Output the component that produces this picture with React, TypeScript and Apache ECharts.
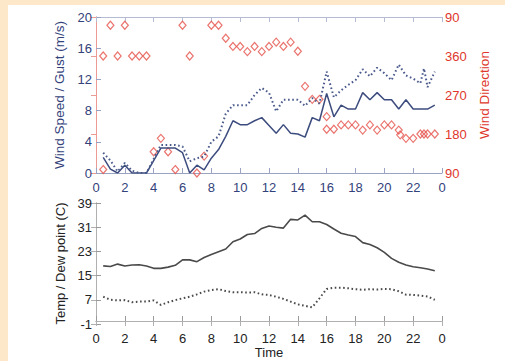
import React, { useEffect, useRef } from "react";
import * as echarts from "echarts";

const windHours = [0.5, 1, 1.5, 2, 2.5, 3, 3.5, 4, 4.5, 5, 5.5, 6, 6.5, 7, 7.5, 8, 8.5, 9, 9.5, 10, 10.5, 11, 11.5, 12, 12.5, 13, 13.5, 14, 14.5, 15, 15.5, 16, 16.5, 17, 17.5, 18, 18.5, 19, 19.5, 20, 20.5, 21, 21.5, 22, 22.5, 22.75, 23, 23.5];
const windSpeed = [2.0, 0.5, 0, 1.0, 0, 0, 0, 1.6, 3.2, 3.2, 3.2, 2.6, 0, 1.0, 0.4, 1.9, 3.0, 4.7, 6.7, 6.2, 6.2, 6.7, 7.1, 6.1, 5.1, 6.2, 5.1, 5.0, 4.6, 7.1, 6.7, 10.2, 7.2, 8.7, 8.2, 8.2, 10.3, 9.4, 10.3, 9.4, 9.4, 8.2, 9.4, 8.2, 8.2, 8.2, 8.2, 8.7];
const windGust = [2.6, 1.6, 0.2, 1.3, 0.3, 0, 0, 1.8, 3.6, 3.6, 3.6, 3.4, 1.5, 1.9, 2.1, 4.0, 4.7, 7.6, 8.7, 8.7, 8.7, 10.0, 10.9, 10.3, 7.9, 9.4, 9.4, 9.4, 8.6, 9.6, 8.9, 13.0, 9.7, 10.6, 11.3, 11.9, 13.3, 12.4, 13.5, 12.8, 11.9, 13.9, 12.5, 12.1, 11.5, 13.4, 11.0, 13.0];

const dirHours = [0.5, 0.5, 1, 1.5, 2, 2.5, 3, 3.5, 4, 4.5, 5, 5.5, 6, 6.5, 7, 7.5, 8, 8.5, 9, 9.5, 10, 10.5, 11, 11.5, 12, 12.5, 13, 13.5, 14, 14.5, 15, 15.5, 16, 16, 16.5, 17, 17.5, 18, 18.5, 19, 19.5, 20, 20.5, 21, 21.1, 21.5, 22, 22.5, 22.75, 23, 23.5];
const windDir = [0, 98, 71, 0, 71, 0, 0, 0, 139, 170, 139, 98, 71, 0, 90, 129, 71, 71, 41, 22, 22, 10, 22, 10, 22, 32, 22, 32, 11, 290, 260, 260, 220, 191, 191, 201, 201, 201, 189, 201, 189, 201, 201, 189, 178, 170, 170, 180, 180, 180, 180];

const tempHours = [0.5, 1, 1.5, 2, 2.5, 3, 3.5, 4, 4.5, 5, 5.5, 6, 6.5, 7, 7.5, 8, 8.5, 9, 9.5, 10, 10.5, 11, 11.5, 12, 12.5, 13, 13.5, 14, 14.5, 15, 15.5, 16, 16.5, 17, 17.5, 18, 18.5, 19, 19.5, 20, 20.5, 21, 21.5, 22, 22.5, 23, 23.5];
const temperature = [18.2, 18.0, 18.8, 18.2, 18.5, 18.6, 18.2, 17.4, 17.4, 17.8, 18.4, 20.2, 20.2, 19.6, 21.0, 22.0, 22.9, 23.8, 26.2, 27.1, 28.6, 28.9, 30.6, 31.4, 31.0, 30.7, 33.6, 33.4, 35.0, 32.8, 32.8, 31.9, 30.4, 29.0, 28.4, 27.9, 25.9, 25.3, 24.2, 22.7, 20.7, 19.4, 18.5, 17.95, 17.6, 17.2, 16.6];
const dewPoint = [8.0, 7.0, 6.8, 6.9, 6.2, 6.4, 6.4, 6.8, 5.3, 6.2, 6.9, 7.5, 8.0, 8.8, 9.7, 10.2, 10.5, 9.9, 9.5, 9.5, 9.4, 9.5, 8.8, 8.6, 8.0, 7.3, 6.4, 5.5, 5.0, 4.5, 7.5, 10.6, 11.0, 11.0, 10.8, 10.5, 10.3, 10.5, 10.4, 10.6, 10.5, 9.8, 8.7, 8.6, 8.4, 8.1, 7.0];

const tempTicks = [-1, 7, 15, 23, 31, 39];

const NAVY = "#33427a";
const RED = "#e0362b";
const FONT = "Liberation Sans";

export default function App() {
  const ref = useRef<HTMLDivElement>(null);
  useEffect(() => {
    if (!ref.current) return;
    const chart = echarts.init(ref.current, null, { renderer: "svg" });
    const hourFmt = (v: number) => (v === 24 ? "0" : String(v));
    const tick = (color: string) => ({ show: true, inside: true, length: 5, lineStyle: { color } });
    const option: any = {
      animation: false,
      textStyle: { fontFamily: FONT },
      grid: [
        { left: 96, right: 63, top: 17, bottom: 188 },
        { left: 96, right: 63, top: 203, bottom: 37 },
      ],
      xAxis: [
        {
          type: "value", gridIndex: 0, min: 0, max: 24, interval: 2, position: "bottom",
          axisLine: { lineStyle: { color: "#9aa3c2" } },
          axisTick: tick("#9aa3c2"),
          axisLabel: { color: NAVY, fontSize: 13, margin: 8, formatter: hourFmt, fontFamily: FONT },
          splitLine: { show: false },
        },
        {
          type: "value", gridIndex: 0, min: 0, max: 24, interval: 2, position: "top",
          axisLine: { lineStyle: { color: "#b4bbd3" } },
          axisTick: tick("#b4bbd3"),
          axisLabel: { show: false },
          splitLine: { show: false },
        },
        {
          type: "value", gridIndex: 1, min: 0, max: 24, interval: 2, position: "bottom",
          axisLine: { lineStyle: { color: "#9a9a9a" } },
          axisTick: tick("#9a9a9a"),
          axisLabel: { color: "#222", fontSize: 13, margin: 8, formatter: hourFmt, fontFamily: FONT },
          splitLine: { show: false },
          name: "Time", nameLocation: "middle", nameGap: 22,
          nameTextStyle: { color: "#222", fontSize: 13, fontFamily: FONT },
        },
        {
          type: "value", gridIndex: 1, min: 0, max: 24, interval: 2, position: "top",
          axisLine: { lineStyle: { color: "#b0b0b0" } },
          axisTick: tick("#b0b0b0"),
          axisLabel: { show: false },
          splitLine: { show: false },
        },
      ],
      yAxis: [
        {
          type: "value", gridIndex: 0, min: 0, max: 20, interval: 4, position: "left",
          axisLine: { show: true, lineStyle: { color: "#9aa3c2" } },
          axisTick: tick("#9aa3c2"),
          axisLabel: { color: NAVY, fontSize: 13, margin: 4, fontFamily: FONT },
          splitLine: { show: false },
          name: "Wind Speed / Gust (m/s)", nameLocation: "middle", nameGap: 27,
          nameTextStyle: { color: NAVY, fontSize: 13.5, fontFamily: FONT },
        },
        {
          type: "value", gridIndex: 0, min: 90, max: 450, interval: 90, position: "right",
          axisLine: { show: true, lineStyle: { color: "#eb9a94" } },
          axisTick: tick("#eb9a94"),
          axisLabel: { color: RED, fontSize: 13, margin: 3, fontFamily: FONT, formatter: (v: number) => String(v > 360 ? v - 360 : v) },
          splitLine: { show: false },
          name: "Wind Direction", nameLocation: "middle", nameGap: 29,
          nameTextStyle: { color: RED, fontSize: 13.5, fontFamily: FONT },
        },
        {
          type: "value", gridIndex: 1, min: -1, max: 39, position: "left",
          axisLine: { show: true, lineStyle: { color: "#9a9a9a" } },
          axisTick: { ...tick("#9a9a9a"), customValues: tempTicks },
          axisLabel: { color: "#222", fontSize: 13, margin: 4, fontFamily: FONT, customValues: tempTicks },
          splitLine: { show: false },
          name: "Temp / Dew point (C)", nameLocation: "middle", nameGap: 27,
          nameTextStyle: { color: "#222", fontSize: 13, fontFamily: FONT },
        },
        {
          type: "value", gridIndex: 1, min: -1, max: 39, position: "right",
          axisLine: { show: true, lineStyle: { color: "#b0b0b0" } },
          axisTick: { ...tick("#b0b0b0"), customValues: tempTicks },
          axisLabel: { show: false },
          splitLine: { show: false },
        },
      ],
      series: [
        {
          type: "line", xAxisIndex: 0, yAxisIndex: 0, showSymbol: false, symbol: "none",
          data: windHours.map((h, i) => [h, windSpeed[i]]),
          lineStyle: { color: "#3d4c7e", width: 1.5 },
        },
        {
          type: "line", xAxisIndex: 0, yAxisIndex: 0, showSymbol: false, symbol: "none",
          data: windHours.map((h, i) => [h, windGust[i]]),
          lineStyle: { color: "#4a5a8c", width: 2, type: [1.6, 2.6] },
        },
        {
          type: "scatter", xAxisIndex: 0, yAxisIndex: 1, symbol: "diamond", symbolSize: [7, 8],
          data: dirHours.map((h, i) => [h, windDir[i] < 90 ? windDir[i] + 360 : windDir[i]]),
          itemStyle: { color: "rgba(0,0,0,0)", borderColor: "#e5514a", borderWidth: 1.2 },
        },
        {
          type: "line", xAxisIndex: 2, yAxisIndex: 2, showSymbol: false, symbol: "none",
          data: tempHours.map((h, i) => [h, temperature[i]]),
          lineStyle: { color: "#4a4a4a", width: 1.6 },
        },
        {
          type: "line", xAxisIndex: 2, yAxisIndex: 2, showSymbol: false, symbol: "none",
          data: tempHours.map((h, i) => [h, dewPoint[i]]),
          lineStyle: { color: "#4a4a4a", width: 2, type: [1.6, 2.6] },
        },
      ],
    };
    chart.setOption(option);
    return () => chart.dispose();
  }, []);
  return (
    <div style={{ position: "fixed", left: 0, top: 0, width: 505, height: 361, background: "#fde9c9" }}>
      <div style={{ position: "absolute", left: 8, top: 5, right: 0, bottom: 0, background: "#ffffff" }} />
      <div ref={ref} style={{ position: "absolute", left: 0, top: 0, width: 505, height: 361 }} />
    </div>
  );
}
